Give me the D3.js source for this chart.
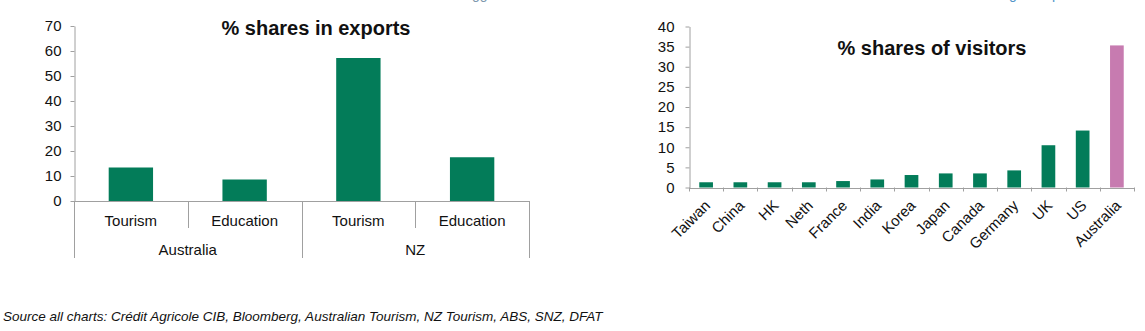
<!DOCTYPE html>
<html>
<head>
<meta charset="utf-8">
<script src="https://cdn.jsdelivr.net/npm/d3@7"></script>
<style>
  body { margin: 0; background: #fff; }
  svg { display: block; font-family: "Liberation Sans", Arial, sans-serif; }
  .axis path, .axis line { stroke: #a0a0a0; }
  .axis text { fill: #111; font-size: 15px; }
</style>
</head>
<body>
<div id="app"></div>
<script>
// data
const exportCats = ['Tourism', 'Education', 'Tourism', 'Education']
const exportGroups = ['Australia', 'NZ']
const exportValues = [13.4, 8.6, 57.2, 17.5]
const exportTicks = [0, 10, 20, 30, 40, 50, 60, 70]

const visitorCountries = ['Taiwan', 'China', 'HK', 'Neth', 'France', 'India', 'Korea',
  'Japan', 'Canada', 'Germany', 'UK', 'US', 'Australia']
const visitorValues = [1.3, 1.3, 1.3, 1.3, 1.6, 2.0, 3.1, 3.5, 3.5, 4.25, 10.5, 14.15, 35.3]
const visitorTicks = [0, 5, 10, 15, 20, 25, 30, 35, 40]

const green = '#037c59'
const pink = '#c77bb0'
const grey = '#a0a0a0'

const W = 1145, H = 331

const svg = d3.select('#app')
  .append('svg')
  .attr('width', W)
  .attr('height', H)

// cut-off heading descenders at the very top
svg.append('text').attr('x', 472).attr('y', -1).attr('font-size', 14)
  .attr('fill', '#7d97ad').text('gg')
svg.append('text').attr('x', 1009).attr('y', -1).attr('font-size', 14)
  .attr('fill', '#4f93c8').text('g')
svg.append('text').attr('x', 1052).attr('y', -1).attr('font-size', 14)
  .attr('fill', '#4f93c8').text('p')

// ---------- 1. % shares in exports ----------
const xL = d3.scaleBand()
  .domain(d3.range(exportCats.length))
  .range([74, 529])
  .padding(0)

const xG = d3.scaleBand()
  .domain(exportGroups)
  .range([74, 529])
  .padding(0)

const yL = d3.scaleLinear()
  .domain([0, 70])
  .range([201, 26])

const left = svg.append('g')

left.append('g')
  .attr('class', 'axis')
  .attr('transform', 'translate(74.5,0)')
  .call(d3.axisLeft(yL).tickValues(exportTicks).tickSize(4).tickSizeOuter(0).tickPadding(9))

left.selectAll('.bar')
  .data(exportValues)
  .enter()
  .append('rect')
  .attr('class', 'bar')
  .attr('x', (d, i) => xL(i) + xL.bandwidth() * 0.305)
  .attr('width', xL.bandwidth() * 0.39)
  .attr('y', d => yL(d))
  .attr('height', d => yL(0) - yL(d))
  .attr('fill', green)

// category axis
left.append('line')
  .attr('x1', 74).attr('x2', 529)
  .attr('y1', yL(0) + 0.5).attr('y2', yL(0) + 0.5)
  .attr('stroke', grey)

left.selectAll('.inner')
  .data(d3.range(exportCats.length).filter(i => i % 2 === 1))
  .enter()
  .append('line')
  .attr('x1', i => Math.round(xL(i)) + 0.5)
  .attr('x2', i => Math.round(xL(i)) + 0.5)
  .attr('y1', yL(0)).attr('y2', 228)
  .attr('stroke', grey)

const groupEdges = exportGroups.map(g => xG(g)).concat([xG.range()[1]])
left.selectAll('.outer')
  .data(groupEdges)
  .enter()
  .append('line')
  .attr('x1', d => Math.round(d) + 0.5)
  .attr('x2', d => Math.round(d) + 0.5)
  .attr('y1', yL(0)).attr('y2', 258)
  .attr('stroke', grey)

left.selectAll('.cat')
  .data(exportCats)
  .enter()
  .append('text')
  .attr('x', (d, i) => xL(i) + xL.bandwidth() / 2)
  .attr('y', 226)
  .attr('text-anchor', 'middle')
  .attr('font-size', 15)
  .attr('fill', '#111')
  .text(d => d)

left.selectAll('.grp')
  .data(exportGroups)
  .enter()
  .append('text')
  .attr('x', d => xG(d) + xG.bandwidth() / 2)
  .attr('y', 255)
  .attr('text-anchor', 'middle')
  .attr('font-size', 15)
  .attr('fill', '#111')
  .text(d => d)

left.append('text')
  .attr('x', 316)
  .attr('y', 35)
  .attr('text-anchor', 'middle')
  .attr('font-size', 20)
  .attr('font-weight', 'bold')
  .attr('fill', '#111')
  .text('% shares in exports')

// ---------- 2. % shares of visitors ----------
const xR = d3.scaleBand()
  .domain(visitorCountries)
  .range([689, 1134])
  .padding(0)

const yR = d3.scaleLinear()
  .domain([0, 40])
  .range([187.5, 26.5])

const right = svg.append('g')

right.append('g')
  .attr('class', 'axis')
  .attr('transform', 'translate(689.5,0)')
  .call(d3.axisLeft(yR).tickValues(visitorTicks).tickSize(4).tickSizeOuter(0).tickPadding(11))

right.selectAll('.bar')
  .data(visitorValues)
  .enter()
  .append('rect')
  .attr('class', 'bar')
  .attr('x', (d, i) => xR(visitorCountries[i]) + xR.bandwidth() * 0.3)
  .attr('width', xR.bandwidth() * 0.4)
  .attr('y', d => yR(d))
  .attr('height', d => yR(0) - yR(d))
  .attr('fill', (d, i) => visitorCountries[i] === 'Australia' ? pink : green)

right.append('line')
  .attr('x1', 689).attr('x2', 1134)
  .attr('y1', Math.round(yR(0)) + 0.5).attr('y2', Math.round(yR(0)) + 0.5)
  .attr('stroke', grey)

right.selectAll('.tick-b')
  .data(d3.range(visitorCountries.length + 1))
  .enter()
  .append('line')
  .attr('x1', i => Math.round(689 + i * xR.step()) + 0.5)
  .attr('x2', i => Math.round(689 + i * xR.step()) + 0.5)
  .attr('y1', yR(0)).attr('y2', yR(0) + 4)
  .attr('stroke', grey)

right.selectAll('.lbl')
  .data(visitorCountries)
  .enter()
  .append('text')
  .attr('transform', d => `translate(${xR(d) + xR.bandwidth() / 2 + 5},${yR(0) + 19}) rotate(-45)`)
  .attr('text-anchor', 'end')
  .attr('font-size', 15)
  .attr('fill', '#111')
  .text(d => d)

right.append('text')
  .attr('x', 932)
  .attr('y', 55)
  .attr('text-anchor', 'middle')
  .attr('font-size', 20)
  .attr('font-weight', 'bold')
  .attr('fill', '#111')
  .text('% shares of visitors')

// source line
svg.append('text')
  .attr('x', 3)
  .attr('y', 320.5)
  .attr('font-size', 13.5)
  .attr('font-style', 'italic')
  .attr('fill', '#111')
  .text('Source all charts: Crédit Agricole CIB, Bloomberg, Australian Tourism, NZ Tourism, ABS, SNZ, DFAT')
</script>
</body>
</html>
